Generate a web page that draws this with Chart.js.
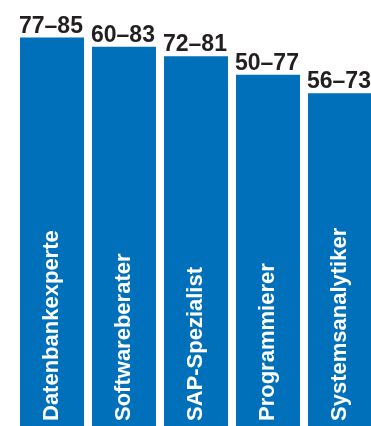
<!DOCTYPE html>
<html>
<head>
<meta charset="utf-8">
<script src="https://cdn.jsdelivr.net/npm/chart.js@4"></script>
<style>
  html, body { margin: 0; padding: 0; overflow: hidden; background: #fff; }
  #wrap { position: absolute; left: 0; top: 0; width: 376px; height: 432px; }
</style>
</head>
<body>
<div id="wrap"><canvas id="chartBase" width="376" height="432"></canvas></div>
<script>
const categorias = ["Datenbankexperte", "Softwareberater", "SAP-Spezialist", "Programmierer", "Systemsanalytiker"];
const valoresMin = [77, 60, 72, 50, 56];
const valoresMax = [85, 83, 81, 77, 73];

const azul = "#0070BA";
const fuenteValor = "bold 23px 'Liberation Sans', Arial, sans-serif";
const fuenteCategoria = "bold 22px 'Liberation Sans', Arial, sans-serif";

// etiquetas encima y dentro de las barras
const etiquetasPlugin = {
  id: "etiquetas",
  afterDatasetsDraw: function (chart) {
    const ctx = chart.ctx;
    const meta = chart.getDatasetMeta(0);
    const area = chart.chartArea;
    ctx.save();
    for (let i = 0; i < meta.data.length; i++) {
      const bar = meta.data[i];
      const izq = bar.x - bar.width / 2;

      ctx.font = fuenteValor;
      ctx.fillStyle = "#231f20";
      ctx.textAlign = "left";
      ctx.textBaseline = "alphabetic";
      ctx.fillText(valoresMin[i] + "\u2013" + valoresMax[i], izq - 1, bar.y - 5);

      ctx.save();
      ctx.font = fuenteCategoria;
      ctx.translate(bar.x, area.bottom - 11);
      ctx.rotate(-Math.PI / 2);
      ctx.fillStyle = "#ffffff";
      ctx.fillText(categorias[i], 0, 6);
      ctx.restore();
    }
    ctx.restore();
  }
};

new Chart(document.getElementById("chartBase").getContext("2d"), {
  type: "bar",
  data: {
    labels: categorias,
    datasets: [{
      data: valoresMax,
      backgroundColor: azul,
      borderWidth: 0,
      barPercentage: 0.889,
      categoryPercentage: 1
    }]
  },
  options: {
    responsive: false,
    animation: false,
    layout: { padding: { left: 16, right: 0, top: 0, bottom: 0 } },
    plugins: {
      legend: { display: false },
      tooltip: { enabled: false }
    },
    scales: {
      x: { display: false },
      y: { display: false, min: 0, max: 93.1 }
    }
  },
  plugins: [etiquetasPlugin]
});
</script>
</body>
</html>
